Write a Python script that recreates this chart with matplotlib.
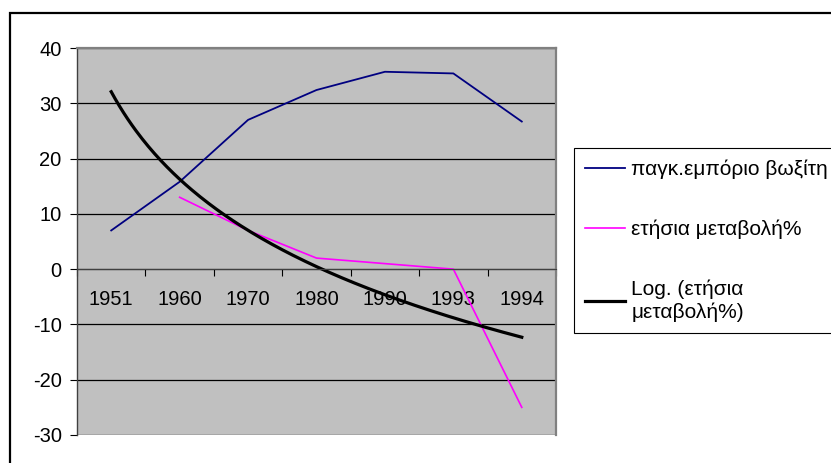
#!/usr/bin/env python3
# -*- coding: utf-8 -*-

import numpy as np
import matplotlib
matplotlib.use("Agg")
import matplotlib.pyplot as plt
import matplotlib.patches as patches

plt.rcParams['font.family'] = ['Liberation Sans', 'DejaVu Sans']
plt.rcParams['axes.unicode_minus'] = False

years = ['1951', '1960', '1970', '1980', '1990', '1993', '1994']
trade = [7, 15.8, 27, 32.4, 35.7, 35.4, 26.7]          # παγκ.εμπόριο βωξίτη
annual = [np.nan, 13, 7, 2, 1, 0, -25]                 # ετήσια μεταβολή%
yticks = [-30, -20, -10, 0, 10, 20, 30, 40]

W, H = 831, 463
fig = plt.figure(figsize=(W / 100, H / 100), dpi=100)

# outer chart border (runs off the right and bottom edge)
fig.patches.append(patches.Rectangle((10 / W, -0.05), 1.1, 1 - 13 / H + 0.05,
                                     transform=fig.transFigure, fill=False,
                                     edgecolor='black', linewidth=1.6))

ax = fig.add_axes([77 / W, (H - 435) / H, 479 / W, 387 / H])
ax.set_facecolor('#c0c0c0')

x = np.arange(len(years))
ax.plot(x, trade, color='#000080', lw=1.3, label='παγκ.εμπόριο βωξίτη')
ax.plot(x, annual, color='#ff00ff', lw=1.2, label='ετήσια μεταβολή%')

# logarithmic trendline of the annual change (Excel style, x = 1..n)
xn = x + 1
ann = np.array(annual)
ok = ~np.isnan(ann)
a, b = np.polyfit(np.log(xn[ok]), ann[ok], 1)
xs = np.linspace(1, len(years), 200)
ax.plot(xs - 1, a * np.log(xs) + b, color='black', lw=2.3,
        label='Log. (ετήσια\nμεταβολή%)')

ax.set_ylim(-30, 40)
ax.set_xlim(-0.5, len(years) - 0.5)
ax.set_yticks(yticks)
ax.tick_params(axis='y', direction='out', length=5, labelsize=14.5, pad=6)
ax.yaxis.grid(True, color='black', lw=0.9)
ax.set_axisbelow(True)

# category axis crosses at 0
ax.spines['bottom'].set_position(('data', 0))
ax.spines['bottom'].set_color('#404040')
ax.set_xticks(np.arange(-0.5, len(years)))
ax.set_xticklabels([])
ax.set_xticks(x, minor=True)
ax.set_xticklabels(years, minor=True)
ax.tick_params(axis='x', which='major', direction='out', length=5)
ax.tick_params(axis='x', which='minor', length=0, labelsize=14.5, pad=15)

for s in ['left', 'top', 'right']:
    ax.spines[s].set_color('#808080')
    ax.spines[s].set_linewidth(1.6)
ax.spines['left'].set_color('#404040')
ax.spines['left'].set_linewidth(1.0)

leg = fig.legend(loc='upper left', bbox_to_anchor=(574 / W, 1 - 148 / H),
                 fontsize=15, frameon=True, fancybox=False,
                 edgecolor='black', framealpha=1, borderpad=0.55,
                 labelspacing=1.95, handlelength=1.9, handletextpad=0.3,
                 borderaxespad=0)
leg.get_frame().set_linewidth(0.8)
leg.get_texts()[2].set_linespacing(1.2)

fig.savefig('out.png', dpi=100)
